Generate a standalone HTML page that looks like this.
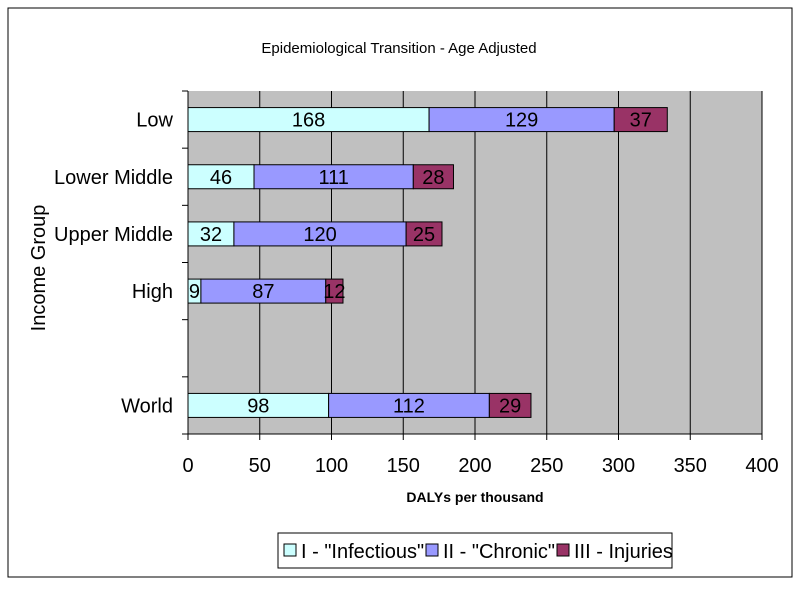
<!DOCTYPE html>
<html><head><meta charset="utf-8"><style>
body{margin:0;background:#fff;font-family:"Liberation Sans",sans-serif}
svg text{font-family:"Liberation Sans",sans-serif}
</style></head><body>
<svg id="c" width="800" height="600" xmlns="http://www.w3.org/2000/svg">
<rect x="8" y="8" width="784" height="569" fill="#fff" stroke="#000" stroke-width="1"/>
<text x="399" y="53" font-size="15" text-anchor="middle">Epidemiological Transition - Age Adjusted</text>
<rect x="188" y="91" width="574" height="343" fill="#c0c0c0"/>
<g id="grid"></g><g id="bars"></g><g id="axes"></g>
<text x="475" y="502" font-size="14" font-weight="bold" text-anchor="middle">DALYs per thousand</text>
<text transform="translate(45,268) rotate(-90)" font-size="20" text-anchor="middle">Income Group</text>
<g>
<rect x="278" y="533" width="394" height="35" fill="#fff" stroke="#000"/>
<rect x="284" y="544" width="12" height="12" fill="#ccffff" stroke="#000"/>
<text x="301" y="558" font-size="20">I - "Infectious"</text>
<rect x="426" y="544" width="12" height="12" fill="#9999ff" stroke="#000"/>
<text x="443" y="558" font-size="20">II - "Chronic"</text>
<rect x="557" y="544" width="12" height="12" fill="#993366" stroke="#000"/>
<text x="574" y="558" font-size="20">III - Injuries</text>
</g>
</svg>
<script>
const categories=["Low","Lower Middle","Upper Middle","High","","World"];
const infectious=[168,46,32,9,null,98];
const chronic=[129,111,120,87,null,112];
const injuries=[37,28,25,12,null,29];
const xTicks=[0,50,100,150,200,250,300,350,400];
const colors=["#ccffff","#9999ff","#993366"];
const NS="http://www.w3.org/2000/svg";
const x0=188,x1=762,y0=91,y1=434,xMax=400;
const xs=v=>x0+v/xMax*(x1-x0);
const band=(y1-y0)/categories.length;
const yc=i=>y0+band*(i+0.5);
function mk(t,a,p){const e=document.createElementNS(NS,t);for(const k in a)e.setAttribute(k,a[k]);p.appendChild(e);return e;}
const g=document.getElementById('grid'),b=document.getElementById('bars'),ax=document.getElementById('axes');
xTicks.forEach(t=>{
 const X=xs(t);
 if(t>0){const l=mk('line',{x1:X,x2:X,y1:y0,y2:y1,stroke:'#000'},g);
 
 }
 const tk=mk('line',{x1:X,x2:X,y1:y1,y2:y1+6,stroke:'#000'},ax);
 
 
 const tx=mk('text',{x:X,y:y1+38,'font-size':20,'text-anchor':'middle'},ax);tx.textContent=t;
 
 
});
const al=mk('line',{x1:x0,x2:x1,y1:y1,y2:y1,stroke:'#000'},ax);


const yl=mk('line',{x1:x0,x2:x0,y1:y0,y2:y1,stroke:'#000'},ax);


for(let i=0;i<=categories.length;i++){
 const Y=y0+band*i;
 const t=mk('line',{x1:x0-6,x2:x0,y1:Y,y2:Y,stroke:'#000'},ax);
 
 
}
const series=[infectious,chronic,injuries],names=["infectious","chronic","injuries"];
categories.forEach((c,i)=>{
 if(c){const tx=mk('text',{x:173,y:yc(i)+7,'font-size':20,'text-anchor':'end'},ax);tx.textContent=c;
 
 }
 let acc=0;
 series.forEach((s,j)=>{
  const v=s[i];if(v==null)return;
  const xa=xs(acc),xb=xs(acc+v);acc+=v;
  const r=mk('rect',{x:xa,y:yc(i)-12,width:xb-xa,height:24,fill:colors[j],stroke:'#000'},b);
  
  
  const t=mk('text',{x:(xa+xb)/2,y:yc(i)+7,'font-size':20,'text-anchor':'middle'},b);t.textContent=v;
  
  
 });
});
</script>
</body></html>
